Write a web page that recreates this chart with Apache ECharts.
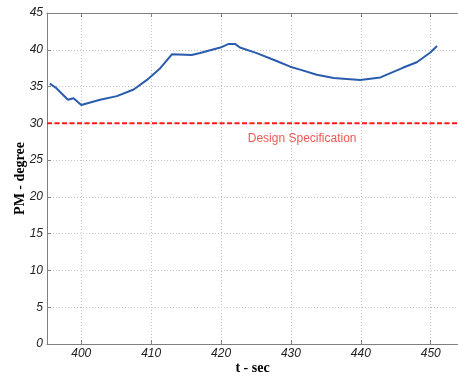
<!DOCTYPE html>
<html>
<head>
<meta charset="utf-8">
<script src="https://cdn.jsdelivr.net/npm/echarts@6/dist/echarts.min.js"></script>
<style>html,body{margin:0;padding:0;background:#fff}#c{width:458px;height:376px}</style>
</head>
<body>
<div id="c"></div>
<script>
// Phase margin over time
var tSec = [395.5, 396.3, 398.1, 398.9, 400.0, 402.7, 405.1, 407.5, 409.4, 411.3, 413.0, 415.8, 417.0, 419.9, 421.1, 422.0, 422.7, 425.1, 427.5, 429.9, 431.3, 433.7, 436.1, 437.5, 439.9, 442.8, 446.0, 448.0, 449.9, 450.9];
var pmDeg = [35.4, 34.9, 33.2, 33.4, 32.5, 33.2, 33.7, 34.6, 35.9, 37.5, 39.4, 39.3, 39.55, 40.3, 40.8, 40.8, 40.3, 39.55, 38.65, 37.7, 37.3, 36.6, 36.15, 36.06, 35.9, 36.24, 37.55, 38.3, 39.6, 40.5];
var specT = [395.1, 453.9];
var specValue = 30;
var specLabel = 'Design Specification';
var specLabelPos = [431.6, 27.9];
var xRange = [395.1, 453.9];
var yRange = [0, 45];

var chart = echarts.init(document.getElementById('c'), null, {renderer: 'canvas'});
var tickFont = {fontFamily: 'Liberation Sans', fontStyle: 'italic', fontSize: 12, color: '#222'};
var nameFont = {fontFamily: 'Liberation Serif', fontWeight: 'bold', fontSize: 14, color: '#000'};
var axisGray = '#808080';
chart.setOption({
  animation: false,
  backgroundColor: '#fff',
  grid: {left: 47, top: 13, right: 0, bottom: 32, containLabel: false, outerBoundsMode: 'none'},
  xAxis: [{
    type: 'value', min: xRange[0], max: xRange[1], position: 'bottom',
    name: 't - sec', nameLocation: 'middle', nameGap: 17, nameMoveOverlap: false, nameTextStyle: nameFont,
    axisLine: {show: true, lineStyle: {color: axisGray, width: 1}},
    axisTick: {show: true, inside: true, length: 4, lineStyle: {color: axisGray}},
    axisLabel: Object.assign({margin: 4, showMinLabel: false, showMaxLabel: false}, tickFont),
    splitLine: {show: true, lineStyle: {color: '#c4c4c4', type: [1, 2], width: 1}}
  }, {
    type: 'value', min: xRange[0], max: xRange[1], position: 'top',
    axisLine: {show: true, lineStyle: {color: axisGray, width: 1}},
    axisTick: {show: true, inside: true, length: 4, lineStyle: {color: axisGray}},
    axisLabel: {show: false},
    splitLine: {show: false}
  }],
  yAxis: {
    type: 'value', min: yRange[0], max: yRange[1], interval: 5,
    name: 'PM - degree', nameLocation: 'middle', nameGap: 20, nameMoveOverlap: false, nameTextStyle: nameFont,
    axisLine: {show: true, lineStyle: {color: axisGray, width: 1}},
    axisTick: {show: true, inside: true, length: 4, lineStyle: {color: axisGray}},
    axisLabel: Object.assign({margin: 4}, tickFont),
    splitLine: {show: true, lineStyle: {color: '#c4c4c4', type: [1, 2], width: 1}}
  },
  series: [{
    type: 'line',
    data: specT.map(function (t) { return [t, specValue]; }),
    symbol: 'none',
    lineStyle: {color: '#ff1a1a', width: 2, type: [5, 2.5]},
    z: 3
  }, {
    type: 'line',
    data: tSec.map(function (t, i) { return [t, pmDeg[i]]; }),
    symbol: 'none',
    lineStyle: {color: '#2a5cad', width: 2},
    z: 4
  }, {
    type: 'scatter',
    data: [specLabelPos],
    symbolSize: 0,
    label: {show: true, position: 'inside', formatter: specLabel,
      fontFamily: 'Liberation Sans', fontSize: 12, color: '#ee2c2c'},
    z: 5
  }]
});
</script>
</body>
</html>
